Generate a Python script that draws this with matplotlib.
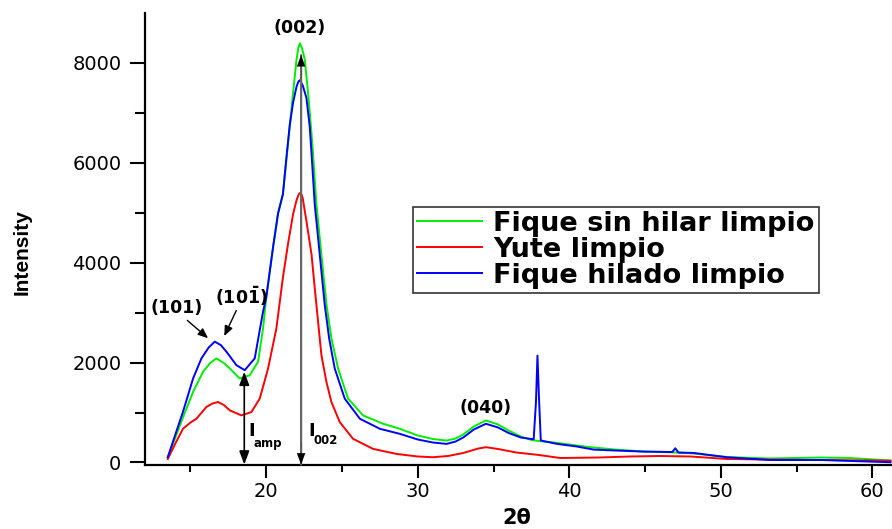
import matplotlib
matplotlib.use('Agg')
import matplotlib.pyplot as plt

# green: Fique sin hilar limpio
x_green = [13.5, 14.0, 14.5, 15.17, 15.83, 16.3, 16.71, 17.2, 17.6, 18.25, 18.91, 19.46, 19.79,
           20.0, 20.45, 20.78, 21.1, 21.33, 21.55, 21.77, 22.0, 22.12, 22.22, 22.35, 22.54,
           22.76, 22.95, 23.09, 23.31, 23.53, 23.75, 23.98, 24.3, 24.74, 25.4, 26.39, 27.71,
           28.82, 30.0, 31.0, 31.9, 32.5, 33.0, 33.7, 34.5, 35.3, 36.0, 36.8, 37.5, 38.0,
           39.2, 40.5, 41.6, 43.0, 44.9, 47.0, 48.2, 50.4, 53.2, 55.0, 56.6, 58.5, 61.2]
y_green = [105, 500, 900, 1412, 1815, 1990, 2083, 1990, 1881, 1680, 1746, 2016, 2686,
           3302, 4310, 4985, 5370, 6045, 6720, 7395, 8068, 8300, 8386, 8300, 8068,
           7395, 6720, 6173, 5167, 4497, 3827, 3155, 2485, 1881, 1278, 942, 775,
           674, 540, 470, 438, 480, 560, 720, 841, 760, 640, 520, 450, 430,
           392, 340, 300, 260, 220, 200, 180, 110, 80, 90, 100, 90, 40]

# red: Yute limpio
x_red = [13.5, 14.0, 14.5, 15.0, 15.39, 16.05, 16.45, 16.82, 17.2, 17.6, 18.36, 19.02, 19.57,
         20.12, 20.67, 21.1, 21.45, 21.77, 22.0, 22.15, 22.28, 22.4, 22.65, 22.99, 23.2,
         23.42, 23.64, 23.97, 24.3, 24.85, 25.73, 27.05, 28.6, 30.0, 31.0, 32.0, 33.0, 34.0,
         34.5, 35.3, 36.5, 38.0, 39.4, 42.0, 44.0, 46.0, 48.0, 50.4, 53.0, 56.6, 61.2]
y_red = [70, 380, 674, 800, 875, 1111, 1180, 1211, 1150, 1042, 942, 1010, 1278,
         1881, 2686, 3700, 4400, 4966, 5250, 5370, 5402, 5300, 4833, 4161, 3491,
         2821, 2149, 1614, 1211, 809, 473, 272, 171, 120, 105, 130, 190, 280,
         306, 270, 200, 150, 90, 100, 120, 130, 120, 70, 60, 50, 36]

# blue: Fique hilado limpio
x_blue = [13.5, 14.0, 14.5, 15.17, 15.72, 16.2, 16.6, 17.0, 17.37, 18.03, 18.58, 19.24, 19.79,
          20.0, 20.45, 20.78, 21.1, 21.33, 21.55, 21.77, 22.0, 22.12, 22.22, 22.4, 22.65,
          22.87, 22.99, 23.2, 23.42, 23.64, 23.86, 24.15, 24.52, 25.18, 26.18, 27.5, 28.82,
          30.0, 31.0, 31.9, 32.5, 33.0, 33.7, 34.5, 35.3, 36.0, 36.8, 37.5, 37.65, 37.8,
          37.9, 38.0, 38.12, 39.2, 40.5, 41.6, 43.0, 44.9, 46.8, 47.0, 47.2, 48.2, 50.4,
          53.2, 56.6, 61.2]
y_blue = [105, 560, 1010, 1680, 2083, 2300, 2418, 2350, 2217, 1948, 1847, 2083, 3022,
          3302, 4310, 4985, 5370, 6100, 6750, 7200, 7520, 7620, 7650, 7550, 7300,
          6720, 6173, 5167, 4497, 3827, 3155, 2485, 1881, 1278, 875, 674, 573,
          460, 400, 372, 420, 500, 660, 775, 700, 590, 500, 470, 465, 1200,
          2140, 1300, 440, 372, 320, 258, 240, 218, 210, 285, 200, 191, 105,
          50, 50, 5]

labels = ['Fique sin hilar limpio', 'Yute limpio', 'Fique hilado limpio']
colors = ['#00ee00', '#ff0000', '#0000ff']

plt.rcParams['font.family'] = ['DejaVu Sans']
plt.rcParams['mathtext.fontset'] = 'dejavusans'

fig = plt.figure(figsize=(8.92, 5.29), dpi=100)
ax = fig.add_axes([0.1626, 0.121, 0.8374, 0.855])

ax.plot(x_green, y_green, color=colors[0], lw=1.4, label=labels[0])
ax.plot(x_red, y_red, color=colors[1], lw=1.4, label=labels[1])
ax.plot(x_blue, y_blue, color=colors[2], lw=1.4, label=labels[2])

ax.set_xlim(12, 61.3)
ax.set_ylim(-50, 9000)
ax.set_xticks([20, 30, 40, 50, 60])
ax.set_xticks([15, 25, 35, 45, 55], minor=True)
ax.set_yticks([0, 2000, 4000, 6000, 8000])
ax.set_yticks([1000, 3000, 5000, 7000], minor=True)
ax.tick_params(which='major', direction='out', width=1.5, labelsize=14)
ax.tick_params(axis='x', which='major', length=9)
ax.tick_params(axis='y', which='major', length=11, pad=6)
ax.tick_params(which='minor', direction='out', length=5, width=1.5)
ax.tick_params(axis='y', which='minor', length=7)
for s in ['top', 'right']:
    ax.spines[s].set_visible(False)
for s in ['left', 'bottom']:
    ax.spines[s].set_linewidth(1.6)

ax.set_ylabel('Intensity', fontsize=15, fontweight='bold',
              family=['Liberation Sans Narrow', 'Liberation Sans'])
ax.yaxis.set_label_coords(-0.152, 0.47)
ax.set_xlabel('2θ', fontsize=15, fontweight='bold')
ax.xaxis.set_label_coords(0.498, -0.117)
ax.xaxis.label.set_va('center')

# peak labels
ax.text(22.2, 8700, '(002)', ha='center', va='center', fontsize=12.5, fontweight='bold')
ax.text(34.45, 1100, '(040)', ha='center', va='center', fontsize=12.5, fontweight='bold')
ax.text(14.1, 3090, '(101)', ha='center', va='center', fontsize=12.5, fontweight='bold')
ax.text(18.35, 3330, r'$\mathbf{(10\bar{1})}$', ha='center', va='center', fontsize=12.5)
ax.annotate('', xy=(16.3, 2450), xytext=(14.65, 2880),
            arrowprops=dict(arrowstyle='-|>,head_length=0.6,head_width=0.25', color='black', lw=1))
ax.annotate('', xy=(17.15, 2480), xytext=(18.1, 3090),
            arrowprops=dict(arrowstyle='-|>,head_length=0.6,head_width=0.25', color='black', lw=1))

# I002 arrow: grey shaft, black heads
ax.annotate('', xy=(22.3, 8150), xytext=(22.3, -40),
            arrowprops=dict(arrowstyle='-', color='#666666', lw=1.6, shrinkA=0, shrinkB=0))
ax.annotate('', xy=(22.3, 8150), xytext=(22.3, 7700),
            arrowprops=dict(arrowstyle='-|>,head_length=0.8,head_width=0.3', color='black',
                            lw=0.1, shrinkA=0, shrinkB=0))
ax.annotate('', xy=(22.3, -40), xytext=(22.3, 400),
            arrowprops=dict(arrowstyle='-|>,head_length=0.8,head_width=0.3', color='black',
                            lw=0.1, shrinkA=0, shrinkB=0))
# Iamp arrow
ax.annotate('', xy=(18.55, 1815), xytext=(18.55, -40),
            arrowprops=dict(arrowstyle='<|-|>,head_length=0.8,head_width=0.3', color='black',
                            lw=1.2, shrinkA=0, shrinkB=0))
ax.text(18.8, 640, 'I', ha='left', va='center', fontsize=13, fontweight='bold')
ax.text(19.15, 390, 'amp', ha='left', va='center', fontsize=8.5, fontweight='bold')
ax.text(22.75, 640, 'I', ha='left', va='center', fontsize=13, fontweight='bold')
ax.text(23.1, 440, '002', ha='left', va='center', fontsize=8.5, fontweight='bold')

leg = ax.legend(loc='upper left', bbox_to_anchor=(0.359, 0.571),
                prop={'weight': 'bold', 'size': 19.5}, fancybox=False, edgecolor='#333333',
                framealpha=1, handlelength=2.4, labelspacing=0.0, borderpad=0.15,
                handletextpad=0.4, borderaxespad=0)
leg.get_frame().set_linewidth(1.2)

plt.savefig('out.png', dpi=100)
